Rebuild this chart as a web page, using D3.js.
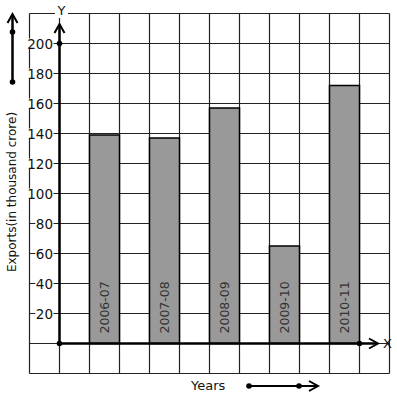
<!DOCTYPE html>
<html>
<head>
<meta charset="utf-8">
<script src="https://cdn.jsdelivr.net/npm/d3@7"></script>
<style>
  body { margin: 0; background: #fff; }
  text { font-family: "DejaVu Sans", sans-serif; }
</style>
</head>
<body>
<script>
// chart data
var years = ["2006-07", "2007-08", "2008-09", "2009-10", "2010-11"];
var exports = [139, 137, 157, 65, 172];
var yTicks = [20, 40, 60, 80, 100, 120, 140, 160, 180, 200];

var w = 397, h = 399;

var svg = d3.select("body").append("svg")
    .attr("width", w)
    .attr("height", h);

// grid columns / rows as scales
var x = d3.scaleLinear().domain([0, 12]).range([29.5, 389.5]);
var y = d3.scaleLinear().domain([-20, 220]).range([373.5, 13.5]);

var grid = svg.append("g");

// vertical grid lines
grid.selectAll(".vline")
    .data(d3.range(0, 13))
    .enter().append("line")
    .attr("x1", function(d) { return x(d); })
    .attr("x2", function(d) { return x(d); })
    .attr("y1", y(220))
    .attr("y2", y(-20))
    .style("stroke", "#222")
    .style("stroke-width", 1.2);

// horizontal grid lines
grid.selectAll(".hline")
    .data(d3.range(-20, 221, 20))
    .enter().append("line")
    .attr("x1", x(0))
    .attr("x2", x(12))
    .attr("y1", function(d) { return y(d); })
    .attr("y2", function(d) { return y(d); })
    .style("stroke", "#222")
    .style("stroke-width", 1.2);

// bars
var colW = x(1) - x(0);
svg.selectAll(".bar")
    .data(exports)
    .enter().append("rect")
    .attr("x", function(d, i) { return x(2 + 2 * i); })
    .attr("y", function(d) { return y(d); })
    .attr("width", colW)
    .attr("height", function(d) { return y(0) - y(d); })
    .style("fill", "#999")
    .style("stroke", "#000")
    .style("stroke-width", 1.5);

// bar labels (rotated)
svg.selectAll(".blabel")
    .data(years)
    .enter().append("text")
    .attr("transform", function(d, i) {
        return "translate(" + (x(2 + 2 * i) + colW / 2 + 4.5) + "," + (y(0) - 10) + ") rotate(-90)";
    })
    .style("font-size", "12.5px")
    .style("fill", "#333")
    .text(function(d) { return d; });

// y tick labels with white background
var tl = svg.append("g").selectAll("g")
    .data(yTicks)
    .enter().append("g");

tl.append("text")
    .attr("x", 53)
    .attr("y", function(d) { return y(d) + 5; })
    .attr("text-anchor", "end")
    .style("font-size", "13.5px")
    .style("fill", "#111")
    .text(function(d) { return d; });

tl.each(function() {
    var t = d3.select(this).select("text");
    var b = t.node().getBBox();
    d3.select(this).insert("rect", "text")
        .attr("x", b.x - 0.5)
        .attr("y", b.y + 3)
        .attr("width", b.width + 1)
        .attr("height", b.height - 6)
        .style("fill", "#fff");
});

// axes with arrows
function arrowHead(g, tx, ty, dir) {
    var p;
    if (dir === "up") p = [[tx - 5, ty + 9], [tx, ty], [tx + 5, ty + 9]];
    else p = [[tx - 9, ty - 5], [tx, ty], [tx - 9, ty + 5]];
    g.append("path")
        .attr("d", d3.line()(p))
        .style("fill", "none")
        .style("stroke", "#000")
        .style("stroke-width", 2);
}

function dot(g, cx, cy) {
    g.append("circle")
        .attr("cx", cx).attr("cy", cy).attr("r", 2.8)
        .style("fill", "#000");
}

var ax = svg.append("g");

// Y axis
ax.append("line")
    .attr("x1", x(1)).attr("x2", x(1))
    .attr("y1", y(0)).attr("y2", 25)
    .style("stroke", "#000").style("stroke-width", 2.5);
arrowHead(ax, x(1), 24, "up");
dot(ax, x(1), y(0));
dot(ax, x(1), y(200));

// X axis
ax.append("line")
    .attr("x1", x(1)).attr("x2", 377)
    .attr("y1", y(0)).attr("y2", y(0))
    .style("stroke", "#000").style("stroke-width", 2.5);
arrowHead(ax, 378, y(0), "right");
dot(ax, x(11), y(0));

// "Y" and "X" letters
ax.append("rect")
    .attr("x", 55).attr("y", 6).attr("width", 13).attr("height", 12)
    .style("fill", "#fff");
ax.append("text")
    .attr("x", 61.5).attr("y", 15)
    .attr("text-anchor", "middle")
    .style("font-size", "13px")
    .style("fill", "#111")
    .text("Y");
ax.append("text")
    .attr("x", 383).attr("y", 348)
    .style("font-size", "13px")
    .style("fill", "#111")
    .text("X");

// left decoration arrow
ax.append("line")
    .attr("x1", 12.5).attr("x2", 12.5)
    .attr("y1", 82).attr("y2", 15)
    .style("stroke", "#000").style("stroke-width", 2.5);
arrowHead(ax, 12.5, 14, "up");
dot(ax, 12.5, 32);
dot(ax, 12.5, 82);

// y axis title
svg.append("text")
    .attr("transform", "translate(16,192) rotate(-90)")
    .attr("text-anchor", "middle")
    .style("font-size", "12px")
    .style("fill", "#111")
    .text("Exports(in thousand crore)");

// x axis title
svg.append("text")
    .attr("x", 191)
    .attr("y", 390)
    .style("font-size", "13px")
    .style("fill", "#111")
    .text("Years");

// bottom decoration arrow
ax.append("line")
    .attr("x1", 249).attr("x2", 317)
    .attr("y1", 386).attr("y2", 386)
    .style("stroke", "#000").style("stroke-width", 2);
arrowHead(ax, 318, 386, "right");
dot(ax, 249, 386);
dot(ax, 299, 386);
</script>
</body>
</html>
